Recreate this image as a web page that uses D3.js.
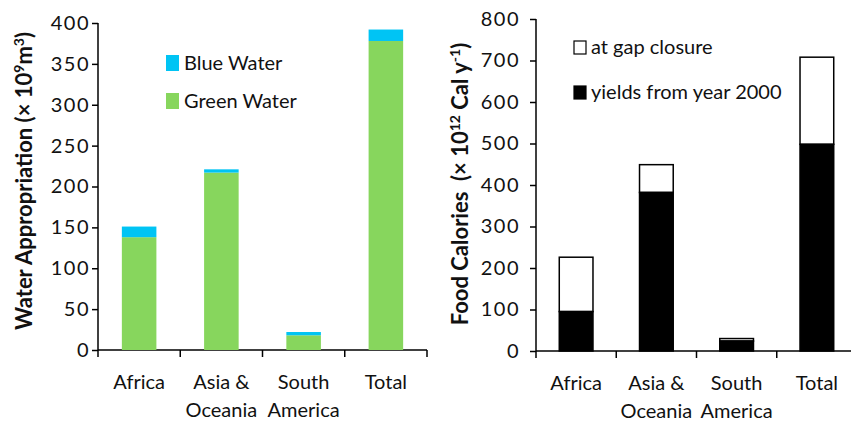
<!DOCTYPE html>
<html>
  <head>
    <meta charset="utf-8">
    <script src="https://cdn.jsdelivr.net/npm/d3@7"></script>
    <style type="text/css">
      body { margin: 0; background: #fff; }
      svg text { font-family: Lato, "Open Sans", sans-serif; fill: #111; }
      .axis path, .axis line { stroke: #000; stroke-width: 1.5; fill: none; }
      .axis text { font-size: 20px; }
      .axis .tick text { letter-spacing: 1.5px; }
      .title { font-weight: bold; font-size: 22px; }
      .legend text { font-size: 20px; }
    </style>
  </head>
  <body>
    <div class="plot_canvas"></div>
    <script>
      // data
      var regions = ["Africa", "Asia & Oceania", "South America", "Total"];
      var regionLines = [["Africa"], ["Asia &", "Oceania"], ["South", "America"], ["Total"]];

      var greenWater = [138, 217, 18, 378];
      var blueWater = [13, 4, 4, 14];
      var waterTicks = [0, 50, 100, 150, 200, 250, 300, 350, 400];

      var yields2000 = [95, 382, 24, 498];
      var gapClosure = [226, 449, 30, 708];   // total height at gap closure
      var calTicks = [0, 100, 200, 300, 400, 500, 600, 700, 800];

      var width = 851, height = 423;
      var blue = "#00c4f4", green = "#87d65d";

      var svg = d3.select(".plot_canvas").append("svg")
        .attr("width", width)
        .attr("height", height);

      // draws one panel: x axis band, y axis, and returns scales
      function panel(opts) {
        var g = svg.append("g");
        var x = d3.scaleBand().domain(regions).range([opts.x0, opts.x1]).paddingInner(0.58).paddingOuter(0.29);
        var y = d3.scaleLinear().domain([0, opts.max]).range([opts.y0, opts.y1]);

        var yAxis = d3.axisLeft(y).tickValues(opts.ticks).tickSize(6).tickPadding(opts.pad);
        g.append("g").attr("class", "axis")
          .attr("transform", "translate(" + opts.x0 + ",0)")
          .call(yAxis)
          .call(s => s.select(".domain").attr("d", "M0," + opts.y0 + "V" + opts.y1));

        // x axis: category boundaries as ticks
        var xa = g.append("g").attr("class", "axis");
        xa.append("path").attr("d", "M" + opts.x0 + "," + opts.y0 + "H" + opts.x1);
        var step = (opts.x1 - opts.x0) / regions.length;
        d3.range(regions.length + 1).forEach(function (i) {
          xa.append("line")
            .attr("x1", opts.x0 + i * step).attr("x2", opts.x0 + i * step)
            .attr("y1", opts.y0).attr("y2", opts.y0 + 7);
        });
        regions.forEach(function (r, i) {
          var t = xa.append("text")
            .attr("text-anchor", "middle")
            .attr("x", opts.x0 + (i + 0.5) * step)
            .attr("y", opts.y0 + 39);
          regionLines[i].forEach(function (l, j) {
            t.append("tspan").attr("x", opts.x0 + (i + 0.5) * step).attr("dy", j ? 28 : 0).text(l);
          });
        });
        return {g: g, x: x, y: y};
      }

      // ---- left: water appropriation
      var L = panel({x0: 98, x1: 427, y0: 350, y1: 23, max: 400, ticks: waterTicks, pad: 2});
      var lb = L.g.append("g");
      regions.forEach(function (r, i) {
        lb.append("rect")
          .attr("x", L.x(r)).attr("width", L.x.bandwidth())
          .attr("y", L.y(greenWater[i])).attr("height", L.y(0) - L.y(greenWater[i]))
          .attr("fill", green);
        lb.append("rect")
          .attr("x", L.x(r)).attr("width", L.x.bandwidth())
          .attr("y", L.y(greenWater[i] + blueWater[i])).attr("height", L.y(0) - L.y(blueWater[i]))
          .attr("fill", blue);
      });

      var lt = svg.append("text").attr("class", "title")
        .attr("transform", "translate(32,181) rotate(-90)")
        .attr("text-anchor", "middle");
      lt.append("tspan").text("Water Appropriation (× 10");
      lt.append("tspan").attr("dy", -8).attr("font-size", 14).text("9");
      lt.append("tspan").attr("dy", 8).text("m");
      lt.append("tspan").attr("dy", -8).attr("font-size", 14).text("3");
      lt.append("tspan").attr("dy", 8).text(")");

      var ll = svg.append("g").attr("class", "legend");
      [["Blue Water", blue, 55], ["Green Water", green, 93]].forEach(function (d) {
        ll.append("rect").attr("x", 166).attr("y", d[2]).attr("width", 13).attr("height", 16).attr("fill", d[1]);
        ll.append("text").attr("x", 184).attr("y", d[2] + 15).text(d[0]);
      });

      // ---- right: food calories
      var R = panel({x0: 536, x1: 857, y0: 351, y1: 19, max: 800, ticks: calTicks, pad: 10});
      var rb = R.g.append("g");
      regions.forEach(function (r, i) {
        rb.append("rect")
          .attr("x", R.x(r)).attr("width", R.x.bandwidth())
          .attr("y", R.y(gapClosure[i])).attr("height", R.y(yields2000[i]) - R.y(gapClosure[i]))
          .attr("fill", "#fff").attr("stroke", "#000").attr("stroke-width", 1.5);
        rb.append("rect")
          .attr("x", R.x(r)).attr("width", R.x.bandwidth())
          .attr("y", R.y(yields2000[i])).attr("height", R.y(0) - R.y(yields2000[i]))
          .attr("fill", "#000").attr("stroke", "#000").attr("stroke-width", 1.5);
      });

      var rt = svg.append("text").attr("class", "title")
        .attr("transform", "translate(468,184) rotate(-90)")
        .attr("text-anchor", "middle")
        .attr("xml:space", "preserve");
      rt.append("tspan").text("Food Calories  (× 10");
      rt.append("tspan").attr("dy", -8).attr("font-size", 14).text("12");
      rt.append("tspan").attr("dy", 8).text(" Cal y");
      rt.append("tspan").attr("dy", -8).attr("font-size", 14).text("-1");
      rt.append("tspan").attr("dy", 8).text(")");

      var rl = svg.append("g").attr("class", "legend");
      [["at gap closure", "#fff", 41], ["yields from year 2000", "#000", 86]].forEach(function (d) {
        rl.append("rect").attr("x", 574).attr("y", d[2]).attr("width", 12).attr("height", 13)
          .attr("fill", d[1]).attr("stroke", "#000").attr("stroke-width", 1.2);
        rl.append("text").attr("x", 591).attr("y", d[2] + 13).text(d[0]);
      });
    </script>
  </body>
</html>
